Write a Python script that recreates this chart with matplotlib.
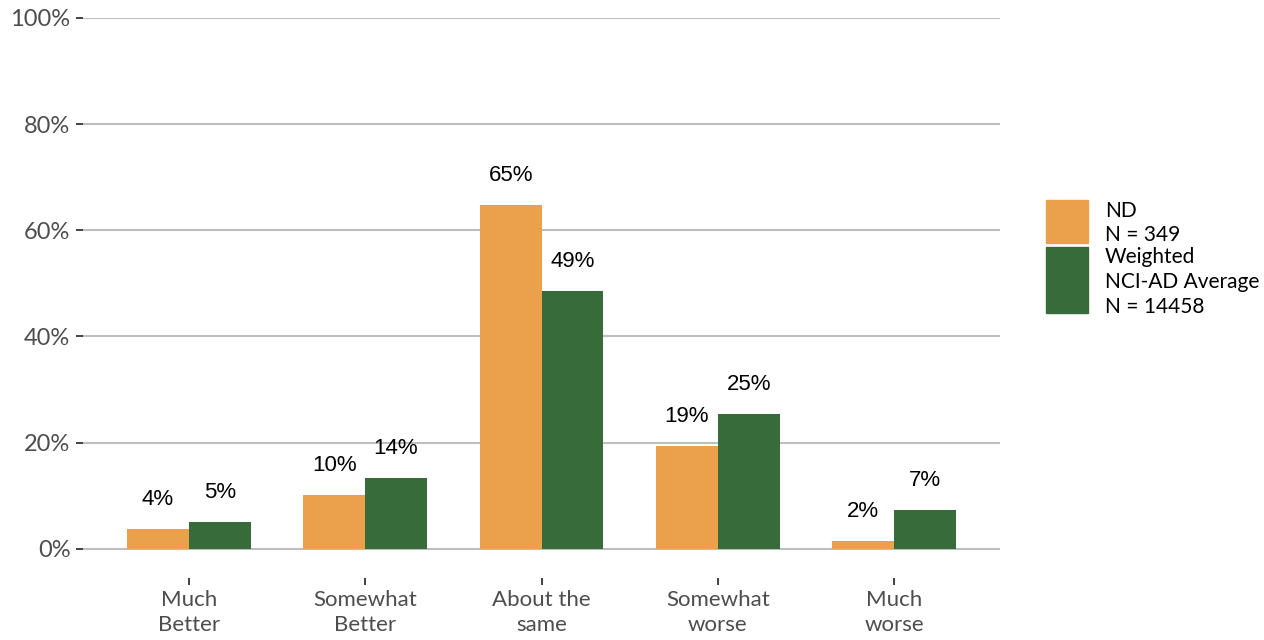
import numpy as np
import matplotlib
matplotlib.use('Agg')
import matplotlib.pyplot as plt
from matplotlib.patches import Rectangle

categories = ['Much\nBetter', 'Somewhat\nBetter', 'About the\nsame', 'Somewhat\nworse', 'Much\nworse']
nd_vals = [0.038, 0.102, 0.648, 0.194, 0.015]
avg_vals = [0.051, 0.134, 0.486, 0.254, 0.073]
nd_labels = ['4%', '10%', '65%', '19%', '2%']
avg_labels = ['5%', '14%', '49%', '25%', '7%']
y_ticks = [0, 0.2, 0.4, 0.6, 0.8, 1.0]
y_tick_labels = ['0%', '20%', '40%', '60%', '80%', '100%']

ORANGE = '#EBA04C'
GREEN = '#386B3A'
GRID = '#BEBEBE'
TICK_TXT = '#4D4D4D'

fig = plt.figure(figsize=(12.64, 6.4), dpi=100)
ax = fig.add_axes([83 / 1264, 1 - 578 / 640, 917 / 1264, (578 - 18) / 640])

x = np.arange(1, len(categories) + 1)
w = 0.35
ax.bar(x - w / 2, nd_vals, w, color=ORANGE, zorder=3)
ax.bar(x + w / 2, avg_vals, w, color=GREEN, zorder=3)

for xi, v, lab in zip(x - w / 2, nd_vals, nd_labels):
    ax.text(xi, v + 0.055, lab, ha='center', va='center', fontsize=16,
            family='Liberation Sans', color='black')
for xi, v, lab in zip(x + w / 2, avg_vals, avg_labels):
    ax.text(xi, v + 0.055, lab, ha='center', va='center', fontsize=16,
            family='Liberation Sans', color='black')

ax.set_xlim(0.4, 5.6)
ax.set_ylim(-0.055, 1.0)
for yt in y_ticks:
    ax.axhline(yt, color=GRID, lw=1.5, zorder=1)

ax.set_yticks(y_ticks)
ax.set_yticklabels(y_tick_labels, family='Lato', fontsize=17, color=TICK_TXT)
ax.set_xticks(x)
ax.set_xticklabels(categories, family='Lato', fontsize=16, color=TICK_TXT, linespacing=1.3)
ax.tick_params(axis='y', length=5, width=1.3, color='#333333', pad=4)
ax.tick_params(axis='x', length=5, width=1.3, color='#333333', pad=4)
for s in ax.spines.values():
    s.set_visible(False)

# legend drawn by hand so the two keys get different heights
def px_rect(x0, y0, x1, y1, color):
    fig.patches.append(Rectangle((x0 / 1264, 1 - y1 / 640), (x1 - x0) / 1264, (y1 - y0) / 640,
                                 transform=fig.transFigure, color=color))

px_rect(1046, 200, 1088, 243, ORANGE)
px_rect(1046, 247, 1088, 313, GREEN)
fig.text(1105 / 1264, 1 - 223 / 640, 'ND\nN = 349', ha='left', va='center',
         family='Lato', fontsize=15, linespacing=1.3)
fig.text(1105 / 1264, 1 - 282 / 640, 'Weighted\nNCI-AD Average\nN = 14458', ha='left', va='center',
         family='Lato', fontsize=15, linespacing=1.3)

fig.savefig('out.png', dpi=100)
